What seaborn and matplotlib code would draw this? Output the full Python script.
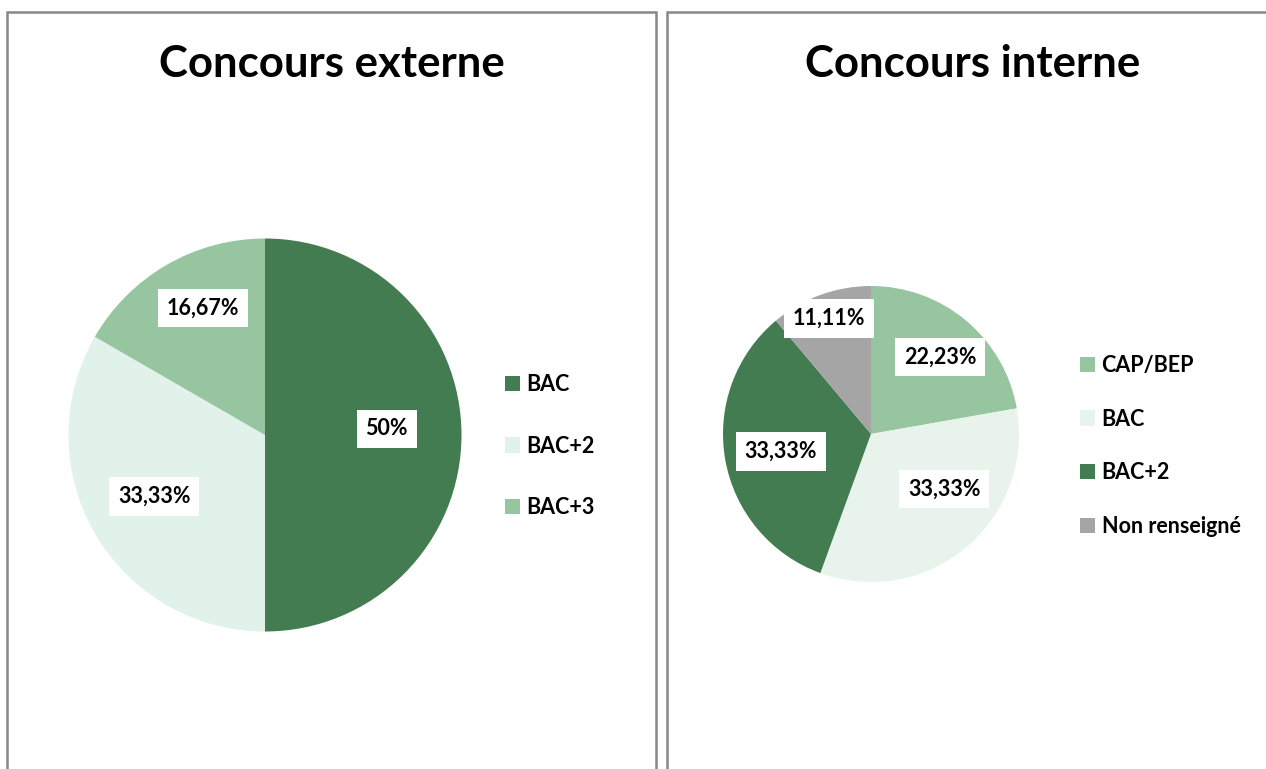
import numpy as np
import seaborn as sns
import matplotlib.pyplot as plt
from matplotlib.patches import Rectangle
from matplotlib.font_manager import FontProperties

# Données
titre_ext = 'Concours externe'
niveaux_ext = ['BAC', 'BAC+2', 'BAC+3']
parts_ext = [50, 33.33, 16.67]
etiquettes_ext = ['50%', '33,33%', '16,67%']
couleurs_ext = ['#427C50', '#E0F2EA', '#96C5A0']

titre_int = 'Concours interne'
niveaux_int = ['CAP/BEP', 'BAC', 'BAC+2', 'Non renseigné']
parts_int = [22.23, 33.33, 33.33, 11.11]
etiquettes_int = ['22,23%', '33,33%', '33,33%', '11,11%']
couleurs_int = ['#96C59F', '#E8F3EB', '#427C50', '#A5A5A5']

sns.set_theme(style='white')
plt.rcParams['font.family'] = ['Lato', 'DejaVu Sans']
plt.rcParams['font.weight'] = 'bold'
plt.rcParams['text.color'] = 'black'

W, H = 1266, 769
fig = plt.figure(figsize=(W / 100, H / 100), dpi=100)


def px_axes(cx, cy, r):
    # axes carré centré sur (cx, cy) en pixels, y depuis le haut
    return fig.add_axes([(cx - r) / W, (H - cy - r) / H, 2 * r / W, 2 * r / H])


# cadres des deux panneaux
for x0, x1 in [(7, 656), (667, 1279)]:
    fig.patches.append(Rectangle((x0 / W, -0.05), (x1 - x0) / W, (H - 12) / H + 0.05,
                                 transform=fig.transFigure, fill=False,
                                 ec='#888888', lw=1.8, zorder=0))

# placement des étiquettes (angle en degrés, distance relative au rayon)
pos_ext = [(3, 0.62), (209, 0.645), (116, 0.72)]
pos_int = [(48, 0.70), (-37, 0.62), (191, 0.62), (110, 0.83)]


def camembert(ax, parts, etiquettes, couleurs, positions):
    wedges, _ = ax.pie(parts, colors=couleurs, startangle=90, counterclock=False,
                       wedgeprops=dict(linewidth=0))
    for (ang, d), txt in zip(positions, etiquettes):
        a = np.deg2rad(ang)
        ax.text(d * np.cos(a), d * np.sin(a), txt, ha='center', va='center',
                fontsize=15.5, fontweight='bold', color='black',
                bbox=dict(boxstyle='square,pad=0.4', fc='white', ec='none'))
    ax.set_xlim(-1, 1)
    ax.set_ylim(-1, 1)
    ax.axis('off')
    return wedges


ax1 = px_axes(265, 435, 196.5)
w1 = camembert(ax1, parts_ext, etiquettes_ext, couleurs_ext, pos_ext)
ax2 = px_axes(871, 434, 148)
w2 = camembert(ax2, parts_int, etiquettes_int, couleurs_int, pos_int)

fig.text(332 / W, 1 - 64 / H, titre_ext, ha='center', va='center',
         fontsize=31.5, fontweight='bold', color='black')
fig.text(973 / W, 1 - 64 / H, titre_int, ha='center', va='center',
         fontsize=31.5, fontweight='bold', color='black')

police_leg = FontProperties(family=['Lato', 'DejaVu Sans'], weight='bold', size=15.5)
leg_kw = dict(frameon=False, handlelength=0.7, handleheight=0.7, handletextpad=0.3,
              prop=police_leg, labelcolor='black', borderpad=0, borderaxespad=0)
fig.legend(w1, niveaux_ext, loc='center left', bbox_to_anchor=(505 / W, 1 - 446 / H),
           labelspacing=1.88, **leg_kw)
fig.legend(w2, niveaux_int, loc='center left', bbox_to_anchor=(1080 / W, 1 - 446 / H),
           labelspacing=1.53, **leg_kw)

fig.savefig('out.png', dpi=100)
